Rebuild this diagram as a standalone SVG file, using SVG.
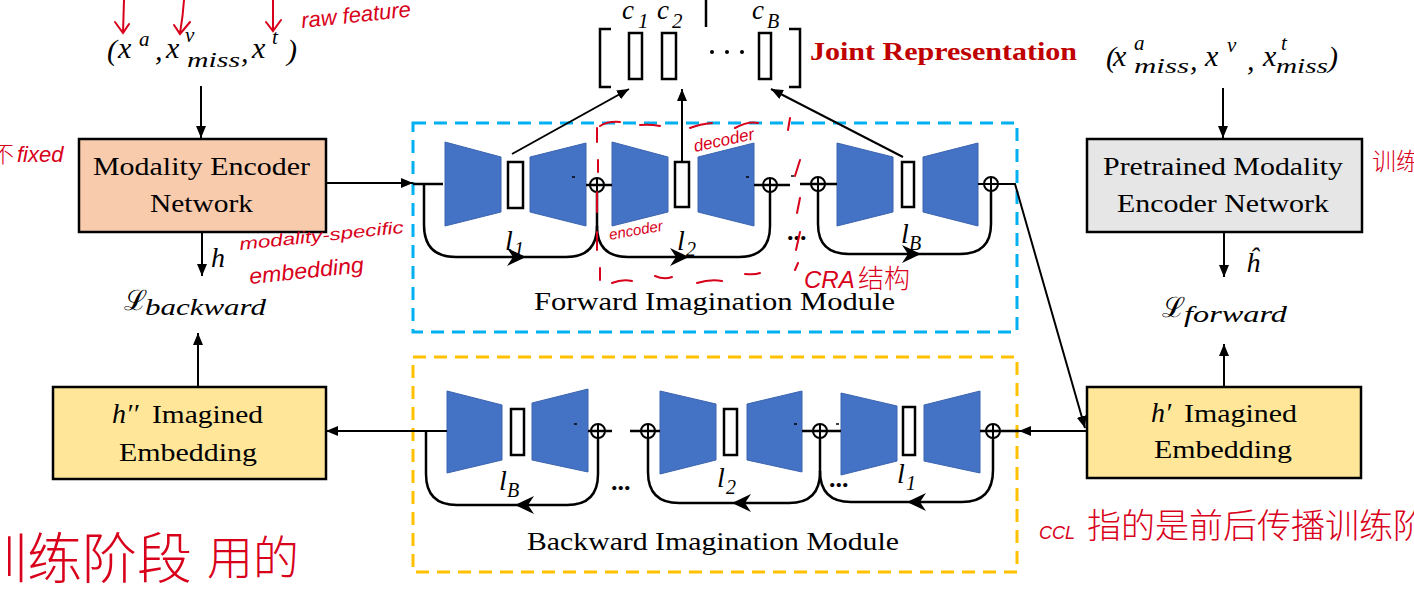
<svg xmlns="http://www.w3.org/2000/svg" width="1414" height="592" viewBox="0 0 1414 592">
<defs>
<style>
.t{font-family:"Liberation Serif","Times New Roman",serif;font-size:26px;fill:#000}
.m{font-family:"Liberation Serif","Times New Roman",serif;font-style:italic;fill:#000}
.box{stroke:#000;stroke-width:2.5}
.trap{fill:#4472c4;stroke:#3b64b0;stroke-width:1}
.lat{fill:#fff;stroke:#000;stroke-width:2.5}
.ln{stroke:#000;stroke-width:2.5;fill:none}
.thin{stroke:#000;stroke-width:1.5;fill:none}
.arr{stroke:#000;stroke-width:2;fill:none;marker-end:url(#ah)}
.hw{fill:#d8001a;font-family:"Liberation Sans","Noto Sans CJK SC",sans-serif;font-style:italic}
.hwc{fill:#d8001a;font-family:"Noto Sans CJK SC",sans-serif;font-weight:300}
.hwl{stroke:#d8001a;stroke-width:2;fill:none;stroke-linecap:round}
.dot{font-family:"Liberation Serif",serif;font-size:26px;font-weight:bold;fill:#000}
</style>
<marker id="ah" viewBox="0 0 12 10" refX="12" refY="5" markerWidth="12" markerHeight="10" markerUnits="userSpaceOnUse" orient="auto"><path d="M0,0 L12,5 L0,10 z" fill="#000"/></marker>
<path id="stealth" d="M0,0 L-19,-9 L-13,0 L-19,9 Z" fill="#000"/>
<g id="oplus"><circle cx="0" cy="0" r="7" fill="none" stroke="#000" stroke-width="2"/><path d="M-7,0 H7 M0,-7 V7" stroke="#000" stroke-width="2"/></g>
</defs>
<rect width="1414" height="592" fill="#fff"/>

<!-- input formulas -->
<g id="input-left">
<text class="m" x="107" y="60" font-size="30" font-style="normal">(</text>
<text class="m" x="118" y="58" font-size="30">x</text>
<text class="m" x="139" y="46" font-size="21">a</text>
<text class="m" x="155" y="60" font-size="30" font-style="normal">,</text>
<text class="m" x="166" y="58" font-size="30">x</text>
<text class="m" x="185" y="42" font-size="21">v</text>
<text class="m" x="187" y="67" font-size="22" textLength="53" lengthAdjust="spacingAndGlyphs">miss</text>
<text class="m" x="241" y="62" font-size="30" font-style="normal">,</text>
<text class="m" x="252" y="58" font-size="30">x</text>
<text class="m" x="272" y="44" font-size="21">t</text>
<text class="m" x="287" y="60" font-size="30" font-style="normal">)</text>
</g>
<g id="input-right">
<text class="m" x="1106" y="67" font-size="30" font-style="normal">(</text>
<text class="m" x="1113" y="66" font-size="30">x</text>
<text class="m" x="1134" y="50" font-size="21">a</text>
<text class="m" x="1134" y="73" font-size="22" textLength="55" lengthAdjust="spacingAndGlyphs">miss</text>
<text class="m" x="1190" y="70" font-size="30" font-style="normal">,</text>
<text class="m" x="1205" y="66" font-size="30">x</text>
<text class="m" x="1227" y="52" font-size="21">v</text>
<text class="m" x="1247" y="70" font-size="30" font-style="normal">,</text>
<text class="m" x="1263" y="66" font-size="30">x</text>
<text class="m" x="1281" y="50" font-size="21">t</text>
<text class="m" x="1276" y="73" font-size="22" textLength="52" lengthAdjust="spacingAndGlyphs">miss</text>
<text class="m" x="1328" y="67" font-size="30" font-style="normal">)</text>
</g>

<!-- joint representation -->
<g id="joint">
<path d="M611,29 H600 V87 H611" class="ln" stroke-width="3"/>
<path d="M789,29 H800 V87 H789" class="ln" stroke-width="3"/>
<rect x="629" y="33" width="13" height="46" class="lat" stroke-width="2"/>
<rect x="662" y="33" width="14" height="46" class="lat" stroke-width="2"/>
<rect x="759" y="33" width="12" height="46" class="lat" stroke-width="2"/>
<circle cx="712" cy="52" r="2" fill="#000"/><circle cx="727" cy="52" r="2" fill="#000"/><circle cx="742" cy="52" r="2" fill="#000"/>
<text class="m" x="622" y="19" font-size="27">c</text><text class="m" x="638" y="28" font-size="21" font-style="normal">1</text>
<text class="m" x="657" y="19" font-size="27">c</text><text class="m" x="672" y="28" font-size="21" font-style="normal">2</text>
<text class="m" x="752" y="19" font-size="27">c</text><text class="m" x="767" y="28" font-size="20">B</text>
<text x="810" y="60" font-family="Liberation Serif,serif" font-size="26" font-weight="bold" fill="#c00000" textLength="267" lengthAdjust="spacingAndGlyphs">Joint Representation</text>
</g>

<!-- nodes -->
<g id="modality-encoder">
<rect x="79" y="139" width="247" height="93" fill="#f8cbad" class="box"/>
<text class="t" x="93" y="175" textLength="217" lengthAdjust="spacingAndGlyphs">Modality Encoder</text>
<text class="t" x="150" y="212" textLength="103" lengthAdjust="spacingAndGlyphs">Network</text>
</g>
<g id="pretrained-encoder">
<rect x="1087" y="139" width="275" height="93" fill="#e7e6e6" class="box"/>
<text class="t" x="1103" y="175" textLength="240" lengthAdjust="spacingAndGlyphs">Pretrained Modality</text>
<text class="t" x="1117" y="212" textLength="212" lengthAdjust="spacingAndGlyphs">Encoder Network</text>
</g>
<g id="h2-imagined">
<rect x="53" y="387" width="273" height="92" fill="#ffe699" class="box"/>
<text class="m" x="112" y="423" font-size="28">h′′</text>
<text class="t" x="152" y="423" textLength="111" lengthAdjust="spacingAndGlyphs">Imagined</text>
<text class="t" x="119" y="461" textLength="138" lengthAdjust="spacingAndGlyphs">Embedding</text>
</g>
<g id="h1-imagined">
<rect x="1087" y="387" width="274" height="91" fill="#ffe699" class="box"/>
<text class="m" x="1151" y="422" font-size="28">h′</text>
<text class="t" x="1184" y="422" textLength="113" lengthAdjust="spacingAndGlyphs">Imagined</text>
<text class="t" x="1154" y="458" textLength="138" lengthAdjust="spacingAndGlyphs">Embedding</text>
</g>
<g id="loss-backward">
<text x="124" y="310" font-family="DejaVu Serif,serif" font-size="28" fill="#000">ℒ</text>
<text class="m" x="145" y="315" font-size="24" textLength="121" lengthAdjust="spacingAndGlyphs">backward</text>
</g>
<g id="loss-forward">
<text x="1162" y="317" font-family="DejaVu Serif,serif" font-size="28" fill="#000">ℒ</text>
<text class="m" x="1184" y="322" font-size="24" textLength="103" lengthAdjust="spacingAndGlyphs">forward</text>
</g>
<g id="h-labels">
<text class="m" x="211" y="267" font-size="28">h</text>
<text class="m" x="1246" y="272" font-size="28">ĥ</text>
</g>

<!-- forward imagination module -->
<g id="forward-module">
<rect x="413" y="123" width="604" height="209" fill="none" stroke="#00b0f0" stroke-width="3" stroke-dasharray="13 8"/>
<polygon class="trap" points="445,142 501,157 501,212 445,226"/>
<rect class="lat" x="508" y="162" width="15" height="46"/>
<polygon class="trap" points="530,157 586,143 586,226 530,212"/>
<polygon class="trap" points="612,142 668,157 668,212 612,226"/>
<rect class="lat" x="675" y="162" width="14" height="45"/>
<polygon class="trap" points="698,157 754,143 754,226 698,212"/>
<polygon class="trap" points="837,143 893,157 893,212 837,226"/>
<rect class="lat" x="902" y="162" width="12" height="45"/>
<polygon class="trap" points="923,157 978,143 978,226 923,212"/>
<text class="m" x="505" y="250" font-size="28">l</text><text class="m" x="514" y="256" font-size="20" font-style="normal">1</text>
<text class="m" x="677" y="250" font-size="28">l</text><text class="m" x="686" y="256" font-size="20" font-style="normal">2</text>
<text class="m" x="901" y="243" font-size="28">l</text><text class="m" x="909" y="250" font-size="20">B</text>
<text class="dot" x="787" y="240">...</text>
<text class="t" x="534" y="310" textLength="361" lengthAdjust="spacingAndGlyphs">Forward Imagination  Module</text>
</g>

<!-- backward imagination module -->
<g id="backward-module">
<rect x="413" y="357" width="604" height="215" fill="none" stroke="#ffc000" stroke-width="3" stroke-dasharray="13 8"/>
<polygon class="trap" points="447,391 502,405 502,460 447,473"/>
<rect class="lat" x="511" y="409" width="13" height="46"/>
<polygon class="trap" points="532,403 588,389 588,472 532,460"/>
<polygon class="trap" points="660,391 716,404 716,460 660,474"/>
<rect class="lat" x="724" y="409" width="13" height="46"/>
<polygon class="trap" points="747,404 802,391 802,472 747,460"/>
<polygon class="trap" points="841,393 897,406 897,461 841,475"/>
<rect class="lat" x="903" y="407" width="12" height="48"/>
<polygon class="trap" points="924,405 980,391 980,473 924,461"/>
<text class="m" x="499" y="490" font-size="28">l</text><text class="m" x="507" y="497" font-size="20">B</text>
<text class="m" x="717" y="487" font-size="28">l</text><text class="m" x="726" y="494" font-size="20" font-style="normal">2</text>
<text class="m" x="897" y="483" font-size="28">l</text><text class="m" x="906" y="490" font-size="20" font-style="normal">1</text>
<text class="dot" x="611" y="490">...</text>
<text class="dot" x="829" y="487">...</text>
<text class="t" x="527" y="550" textLength="372" lengthAdjust="spacingAndGlyphs">Backward Imagination Module</text>
</g>

<!-- connectors -->
<g id="connectors">
<path class="arr" d="M201,86 V138"/>
<path class="arr" d="M1223,88 V138"/>
<path class="arr" d="M202,232 V276"/>
<path class="arr" d="M1224,232 V277"/>
<path class="arr" d="M198,387 V333"/>
<path class="arr" d="M1224,387 V344"/>
<path class="arr" d="M326,183 H413"/>
<path class="ln" d="M413,184 H443"/>
<path class="ln" d="M586,185 H612 M754,185 H790 M800,184 H837"/>
<path class="arr" d="M978,184 H1015 L1085,428"/>
<path class="arr" d="M512,154 L629,89"/>
<path class="arr" d="M682,162 V89"/>
<path class="arr" d="M903,157 L771,89"/>
<path class="ln" d="M706,0 V27" stroke-width="2"/>
<path class="ln" d="M424,184 V225 Q424,257 456,257 H566 Q597,257 597,226 V192"/>
<path class="ln" d="M597,226 Q597,257 628,257 H739 Q770,257 770,226 V192"/>
<path class="ln" d="M818,191 V224 Q818,254 849,254 H960 Q991,254 991,224 V191"/>
<use href="#stealth" x="526" y="257"/>
<use href="#stealth" x="689" y="257"/>
<use href="#stealth" x="921" y="254"/>
<use href="#oplus" x="597" y="185"/>
<use href="#oplus" x="770" y="185"/>
<use href="#oplus" x="818" y="184"/>
<use href="#oplus" x="991" y="184"/>
<path class="arr" d="M1087,431 H1019"/>
<path class="ln" d="M1019,431 H980 M841,431 H802 M660,431 H630 M612,431 H588"/>
<path class="arr" d="M447,431 H326"/>
<path class="ln" d="M598,438 V474 Q598,505 567,505 H457 Q426,505 426,474 V431"/>
<path class="ln" d="M820,438 V472 Q820,503 789,503 H679 Q648,503 648,472 V438"/>
<path class="ln" d="M993,438 V470 Q993,502 962,502 H851 Q820,502 820,471"/>
<use href="#stealth" transform="translate(515,505) scale(-1,1)"/>
<use href="#stealth" transform="translate(732,503) scale(-1,1)"/>
<use href="#stealth" transform="translate(907,502) scale(-1,1)"/>
<use href="#oplus" x="598" y="431"/>
<use href="#oplus" x="648" y="431"/>
<use href="#oplus" x="820" y="431"/>
<use href="#oplus" x="993" y="431"/>
<path class="thin" d="M572,177 H575 M746,177 H749 M791,176 H794 M574,424 H577 M794,424 H797 M836,424 H839"/>
</g>

<!-- handwritten annotations -->
<g id="annotations">
<path class="hwl" d="M124,0 L123,33 M115,22 L123,33 L129,24"/>
<path class="hwl" d="M184,0 Q183,16 180,33 M174,25 L180,34 L190,22"/>
<path class="hwl" d="M273,0 V30 M266,22 L273,31 L281,20"/>
<text class="hw" x="302" y="28" font-size="22" transform="rotate(-6 302 28)">raw feature</text>
<text class="hwc" x="-8" y="162" font-size="22">不</text>
<text class="hw" x="17" y="162" font-size="22">fixed</text>
<text class="hw" x="240" y="250" font-size="17" transform="rotate(-6 240 250)" textLength="165" lengthAdjust="spacingAndGlyphs">modality-specific</text>
<text class="hw" x="250" y="284" font-size="22" transform="rotate(-6 250 284)" textLength="115" lengthAdjust="spacingAndGlyphs">embedding</text>
<text class="hw" x="695" y="152" font-size="17" transform="rotate(-12 695 152)">decoder</text>
<text class="hw" x="610" y="240" font-size="15" transform="rotate(-10 610 240)">encoder</text>
<text class="hw" x="804" y="288" font-size="24">CRA</text><text class="hwc" x="858" y="288" font-size="26">结构</text>
<path class="hwl" d="M597,128 V142 M598,160 V172 M597,192 V212 M597,232 V250 M600,268 V280 M600,126 Q608,121 620,122 M640,125 Q650,124 660,126 M690,128 Q700,124 712,123 M735,128 Q748,121 758,123 M790,118 L788,130 M800,160 L795,176 M800,198 L797,213 M800,232 L796,250 M798,263 L795,270 M612,283 Q622,279 632,281 M655,276 Q664,280 672,277 M697,283 Q710,279 722,281 M745,274 Q755,275 760,273"/>
<text class="hwc" x="-28" y="578" font-size="55">训练阶段</text>
<text class="hwc" x="207" y="574" font-size="46">用的</text>
<text class="hw" x="1039" y="539" font-size="18" font-style="normal">CCL</text>
<text class="hwc" x="1087" y="538" font-size="34">指的是前后传播训练阶段</text>
<text class="hwc" x="1372" y="170" font-size="24">训练</text>
</g>
</svg>
